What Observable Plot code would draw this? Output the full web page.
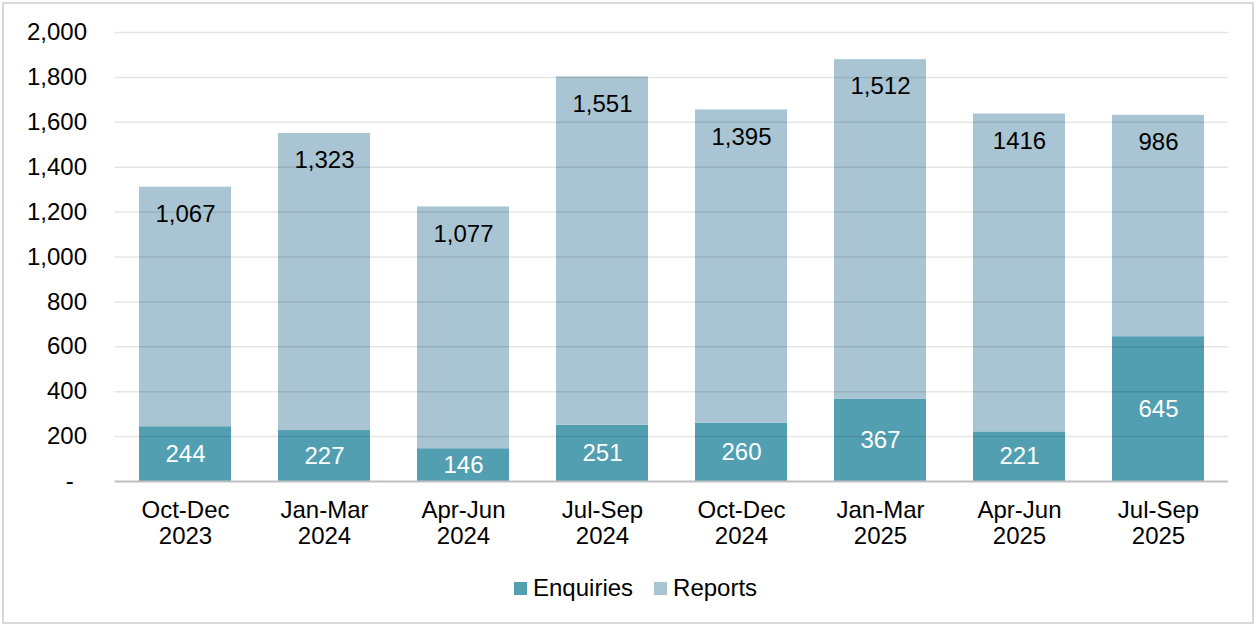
<!DOCTYPE html>
<html><head><meta charset="utf-8">
<script src="https://cdn.jsdelivr.net/npm/d3@7"></script>
<script src="https://cdn.jsdelivr.net/npm/@observablehq/plot@0.6"></script>
<style>
body{margin:0;background:#fff;font-family:"Liberation Sans",Arial,sans-serif;}
#wrap{position:relative;width:1256px;height:625px;overflow:hidden;background:#fff;}
#frame{position:absolute;left:2px;top:2px;width:1252px;height:622px;border:2px solid #d9d9d9;box-sizing:border-box;}
#chart{position:absolute;left:0;top:0;}
#legend{position:absolute;left:514px;top:575px;height:26px;display:flex;align-items:center;font-size:24px;color:#000;white-space:nowrap;}
.sw{display:inline-block;width:13px;height:13px;margin-right:6px;}
.item{display:flex;align-items:center;margin-right:21px;}
</style></head>
<body>
<div id="wrap">
  <div id="frame"></div>
  <div id="chart"></div>
  <div id="legend"></div>
</div>
<script>
const quarters = ["Oct-Dec\n2023","Jan-Mar\n2024","Apr-Jun\n2024","Jul-Sep\n2024","Oct-Dec\n2024","Jan-Mar\n2025","Apr-Jun\n2025","Jul-Sep\n2025"];
const enquiries = [244, 227, 146, 251, 260, 367, 221, 645];
const reports = [1067, 1323, 1077, 1551, 1395, 1512, 1416, 986];
const reportLabels = ["1,067","1,323","1,077","1,551","1,395","1,512","1416","986"];
const enquiryLabels = ["244","227","146","251","260","367","221","645"];
const seriesNames = ["Enquiries","Reports"];
const seriesColors = ["#529fb2","#a9c5d3"];
const yTicks = [0,200,400,600,800,1000,1200,1400,1600,1800,2000];

const rows = [];
quarters.forEach((q,i)=>{
  rows.push({quarter:q, series:"Enquiries", value:enquiries[i]});
  rows.push({quarter:q, series:"Reports", value:reports[i]});
});
const enqText = quarters.map((q,i)=>({quarter:q, y:enquiries[i]/2, label:enquiryLabels[i]}));
const repText = quarters.map((q,i)=>({quarter:q, y:enquiries[i]+reports[i], label:reportLabels[i]}));

const chart = Plot.plot({
  width:1256, height:560,
  marginTop:32, marginBottom:79, marginLeft:114.5, marginRight:28,
  style:{fontFamily:'"Liberation Sans", Arial, sans-serif', fontSize:"24px", color:"#000", background:"transparent"},
  x:{domain:quarters, paddingInner:0.34, paddingOuter:0.17, label:null},
  y:{domain:[0,2000], label:null},
  color:{domain:seriesNames, range:seriesColors},
  marks:[
    Plot.barY(rows, {x:"quarter", y:"value", fill:"series"}),
    Plot.ruleY(yTicks.filter(d=>d>0), {stroke:"#000", strokeOpacity:0.1, strokeWidth:1.5}),
    Plot.ruleY([0], {stroke:"#bfbfbf", strokeWidth:2}),
    Plot.text(enqText, {x:"quarter", y:"y", text:"label", fill:"#fff", fontSize:24}),
    Plot.text(repText, {x:"quarter", y:"y", text:"label", fill:"#000", fontSize:24, dy:27}),
    Plot.axisX({tickSize:0, tickPadding:17, fontSize:24, lineHeight:1.12, label:null}),
    Plot.axisY({ticks:yTicks, tickSize:0, tickPadding:28, fontSize:24, label:null,
      tickFormat:d => d===0 ? "-\u00a0\u00a0" : d3.format(",")(d)})
  ]
});
document.getElementById("chart").appendChild(chart);

const legend = document.getElementById("legend");
seriesNames.forEach((name,i)=>{
  const it = document.createElement("div");
  it.className = "item";
  const sw = document.createElement("span");
  sw.className = "sw"; sw.style.background = seriesColors[i];
  it.appendChild(sw);
  it.appendChild(document.createTextNode(name));
  legend.appendChild(it);
});
</script>
</body></html>
